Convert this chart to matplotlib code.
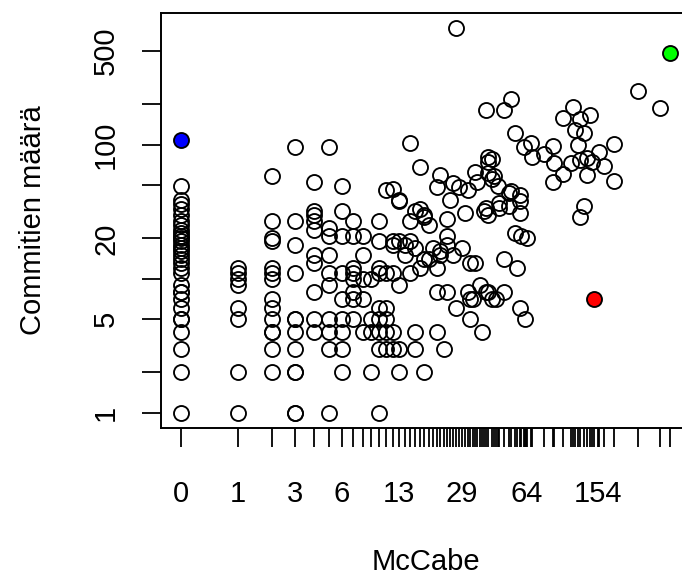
import numpy as np
import matplotlib
matplotlib.use('Agg')
from matplotlib import pyplot as plt

plt.rcParams['font.family'] = ['Liberation Sans', 'DejaVu Sans']

# McCabe complexity vs number of commits, one pair per file
mccabe = ([0]*31 + [1]*8 + [2]*14 + [3]*12 + [4]*10 + [5]*10 + [6]*9 + [7]*8 +
          [8]*5 + [9]*4 + [10]*9 + [11]*6 + [12]*6 + [13]*6 + [14]*2 + [15]*4 +
          [16]*4 + [17]*3 + [18]*4 + [19]*2 + [20] + [21]*4 + [22]*3 + [23] +
          [24]*4 + [25] + [26]*2 + [27]*2 + [28] + [29] + [30] + [31]*2 + [32]*3 +
          [33] + [34]*2 + [35] + [36] + [37] + [38] + [39]*3 + [40]*5 + [42]*3 +
          [43] + [44] + [45] + [46]*2 + [49]*3 + [52]*2 + [53]*2 + [56]*2 + [57] +
          [59]*4 + [60] + [62] + [63] + [65] + [68] + [69] + [80] + [89]*2 + [90] +
          [100]*2 + [110] + [116] + [114] + [121] + [124]*3 + [130]*2 + [135]*2 +
          [139] + [143] + [155] + [166] + [187]*2 + [250] + [325])
commits = ([1, 2, 3, 4, 5, 5, 6, 7, 8, 8, 9, 11, 12, 13, 14, 15, 16, 17, 18, 19, 20,
            21, 22, 23, 25, 27, 30, 33, 36, 39, 49] +
           [1, 2, 5, 6, 9, 10, 11, 12] +
           [2, 3, 4, 4, 5, 6, 7, 10, 11, 12, 19, 20, 27, 58] +
           [1, 1, 2, 2, 3, 4, 5, 5, 11, 18, 27, 97] +
           [4, 5, 8, 13, 15, 23, 27, 30, 32, 53] +
           [1, 3, 4, 5, 9, 11, 15, 21, 24, 97] +
           [2, 3, 4, 5, 7, 11, 21, 32, 49] +
           [5, 7, 8, 10, 11, 12, 21, 27] +
           [4, 7, 10, 15, 21] +
           [2, 4, 5, 10] +
           [1, 3, 4, 5, 6, 11, 12, 19, 27] +
           [3, 4, 5, 6, 11, 46] +
           [3, 4, 11, 18, 19, 47] +
           [2, 3, 9, 19, 38, 39] +
           [15, 18] +
           [11, 19, 27, 104] +
           [3, 4, 17, 32] +
           [12, 33, 68] +
           [2, 14, 29, 30] +
           [14, 25] +
           [17] +
           [4, 8, 12, 48] +
           [15, 16, 59] +
           [3] +
           [8, 18, 21, 28] +
           [39] +
           [15, 52] +
           [6, 740] +
           [48] + [17] + [31] + [8, 46] + [5, 7, 13] + [7] + [13, 63] + [53] + [9] +
           [4] + [32] + [8, 34, 183] + [8, 30, 62, 75, 81] + [7, 56, 78] + [58] +
           [7] + [49] + [34, 37] + [8, 14, 183] + [35, 44] + [45, 220] + [22, 122] +
           [12] + [6, 31, 38, 42] + [21] + [97] + [5] + [20] + [104] + [81] + [85] +
           [53, 98] + [73] + [61, 158] + [73] + [130] + [192] + [99] + [29, 77, 156] +
           [35, 122] + [59, 80] + [168] + [75] + [89] + [69] + [54, 101] + [254] +
           [189])

# highlighted files
hl_x = [0, 147, 370]
hl_y = [108, 7, 487]
hl_col = ['#0000FF', '#FF0000', '#00FF00']

xlabels = [0, 1, 3, 6, 13, 29, 64, 154]
yticks = [1, 2, 5, 10, 20, 50, 100, 200, 500]
ylabels = ['1', '', '5', '', '20', '', '100', '', '500']

fwd = lambda v: np.log2(np.asarray(v, dtype=float) + 1)
inv = lambda v: 2 ** np.asarray(v, dtype=float) - 1

fig = plt.figure(figsize=(6.82, 5.78), dpi=100)
ax = fig.add_axes([161/682, (578-428)/578, (690-161)/682, (428-13)/578])
ax.set_xscale('function', functions=(fwd, inv))
ax.set_yscale('log')

ax.plot(mccabe, commits, 'o', mfc='none', mec='black', ms=10.8, mew=1.35)
for x, y, c in zip(hl_x, hl_y, hl_col):
    ax.plot(x, y, 'o', mfc=c, mec='black', ms=10.8, mew=1.35)

allx = mccabe + hl_x
ally = commits + hl_y
lo, hi = fwd(min(allx)), fwd(max(allx))
pad = 0.04*(hi - lo)
ax.set_xlim(inv(lo - pad), inv(hi + pad))
lo, hi = np.log10(min(ally)), np.log10(max(ally))
pad = 0.04*(hi - lo)
ax.set_ylim(10**(lo - pad), 10**(hi + pad))

ax.set_xticks(xlabels)
ax.set_xticklabels([str(v) for v in xlabels])
ax.set_xticks(sorted(set(allx)), minor=True)
ax.set_yticks(yticks)
ax.set_yticklabels(ylabels)
ax.yaxis.set_minor_locator(matplotlib.ticker.NullLocator())

ax.tick_params(axis='both', which='both', direction='out', length=13.5, width=1.3,
               color='black', labelsize=21)
ax.tick_params(axis='x', which='major', pad=24)
ax.tick_params(axis='y', which='major', pad=16)
for lab in ax.get_yticklabels():
    lab.set_rotation(90)
    lab.set_va('center')

for s in ax.spines.values():
    s.set_linewidth(1.4)

ax.set_xlabel('McCabe', fontsize=21, va='center')
ax.xaxis.set_label_coords(0.5, (428-562)/415)
ax.set_ylabel('Commitien määrä', fontsize=21, va='center')
ax.yaxis.set_label_coords((33-161)/529, 0.5)

fig.savefig('out.png', dpi=100)
